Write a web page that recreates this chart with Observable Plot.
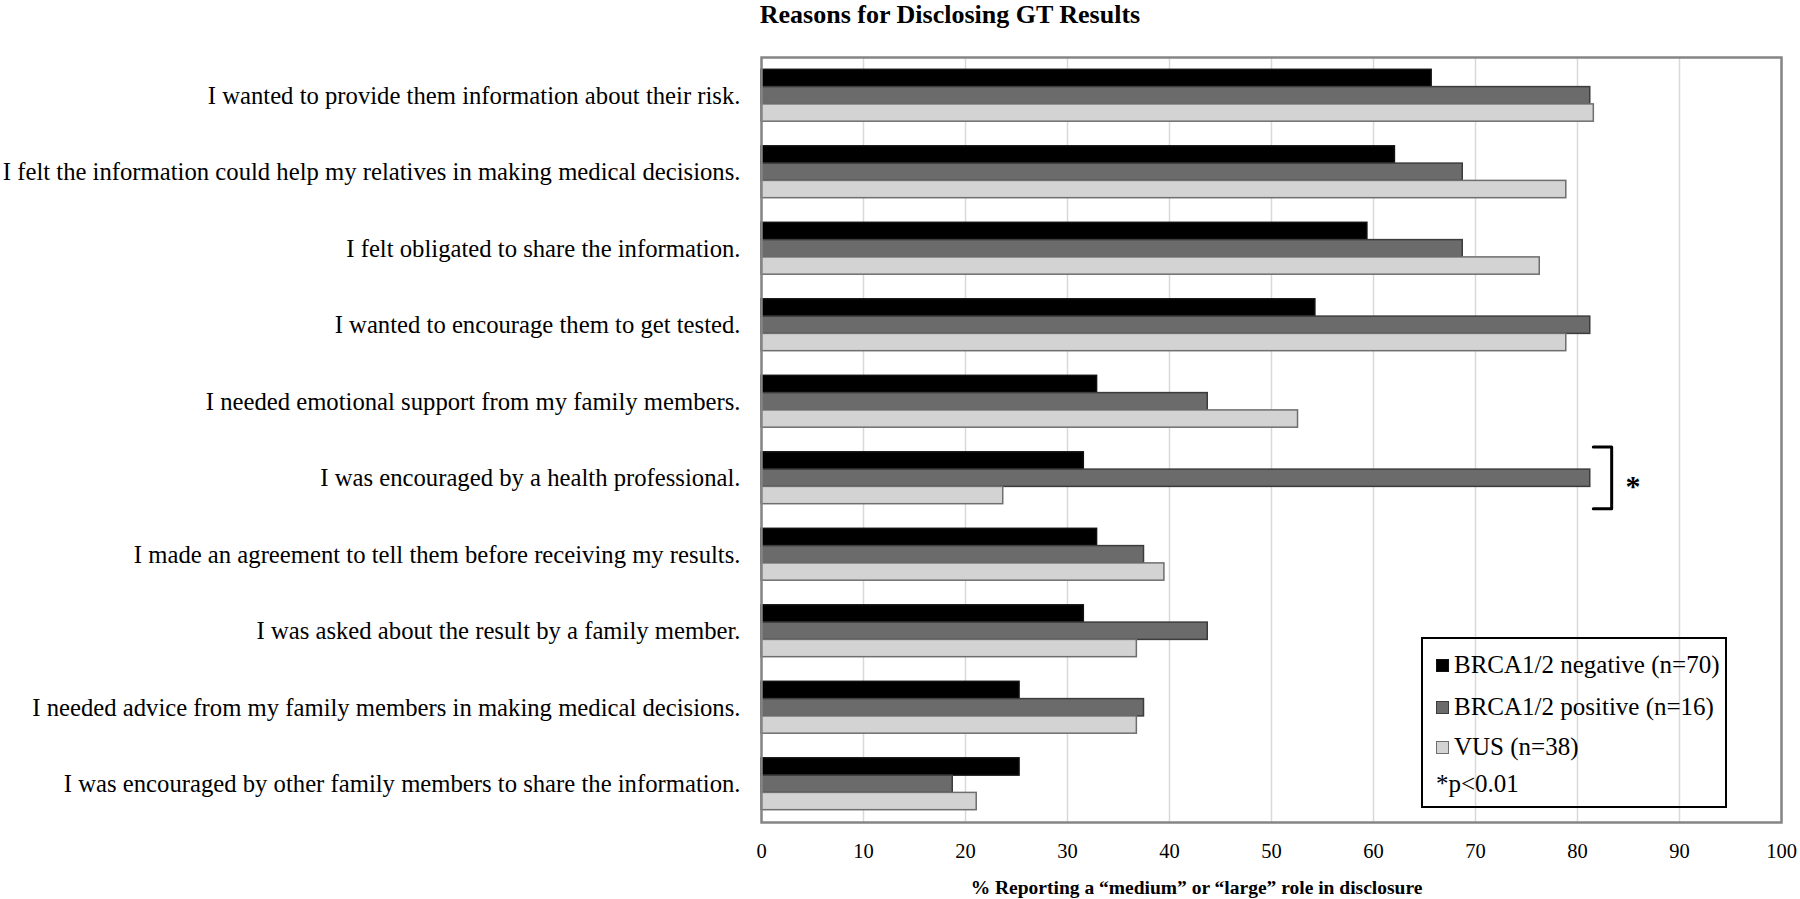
<!DOCTYPE html>
<html><head><meta charset="utf-8">
<script src="https://cdn.jsdelivr.net/npm/d3@7"></script>
<script src="https://cdn.jsdelivr.net/npm/@observablehq/plot@0.6"></script>
<style>
body{margin:0;background:#fff;font-family:"Liberation Serif","Times New Roman",serif;}
#wrap{position:relative;width:1800px;height:899px;overflow:hidden;background:#fff}
#title{height:30px;line-height:30px;font-weight:bold;font-size:26px;text-align:center;padding-left:100px;box-sizing:border-box;width:1800px;color:#000}
#legend{position:absolute;left:1421px;top:637px;width:306px;height:171px;border:2.5px solid #000;box-sizing:border-box;font-size:25px;color:#000}
#legend .item{position:absolute;left:13px;height:26px;line-height:26px;white-space:nowrap}
#legend .sw{display:inline-block;width:11px;height:11px;margin-right:5px;vertical-align:middle;position:relative;top:-2px}
svg{display:block}
</style>
</head><body>
<div id="wrap">
<div id="title">Reasons for Disclosing GT Results</div>
<div id="chart"></div>
<div id="legend"></div>
</div>
<script>
const categories = [
  "I wanted to provide them information about their risk.",
  "I felt the information could help my relatives in making medical decisions.",
  "I felt obligated to share the information.",
  "I wanted to encourage them to get tested.",
  "I needed emotional support from my family members.",
  "I was encouraged by a health professional.",
  "I made an agreement to tell them before receiving my results.",
  "I was asked about the result by a family member.",
  "I needed advice from my family members in making medical decisions.",
  "I was encouraged by other family members to share the information."
];
const series = ["BRCA1/2 negative (n=70)", "BRCA1/2 positive (n=16)", "VUS (n=38)"];
const negative = [65.7, 62.1, 59.4, 54.3, 32.9, 31.6, 32.9, 31.6, 25.3, 25.3];
const positive = [81.25, 68.75, 68.75, 81.25, 43.75, 81.25, 37.5, 43.75, 37.5, 18.75];
const vus      = [81.6, 78.9, 76.3, 78.9, 52.6, 23.7, 39.5, 36.8, 36.8, 21.1];
const xTicks = [0, 10, 20, 30, 40, 50, 60, 70, 80, 90, 100];
const significantRow = "I was encouraged by a health professional.";
const significantNote = "*p<0.01";
const xLabel = "% Reporting a \u201cmedium\u201d or \u201clarge\u201d role in disclosure";

const fills   = ["#000000", "#6b6b6b", "#d3d3d3"];
const strokes = ["#111111", "#3c3c3c", "#6e6e6e"];

const valuesBySeries = [negative, positive, vus];
const rows = [];
categories.forEach((c, i) => series.forEach((s, k) => rows.push({cat: c, i, k, series: s, value: valuesBySeries[k][i]})));

const th = 0.226;          // bar thickness in row units
const first = -0.339;      // top offset of first bar in a row
const barTop = d => d.i + first + d.k * th;
const barBot = d => d.i + first + (d.k + 1) * th;

const sig = categories.indexOf(significantRow);
const sigMax = d3.max(valuesBySeries, v => v[sig]);
const bracket = [
  {x: sigMax + 0.3, y: sig - 0.41},
  {x: sigMax + 2.1, y: sig - 0.41},
  {x: sigMax + 2.1, y: sig + 0.40},
  {x: sigMax + 0.3, y: sig + 0.40}
];

const chart = Plot.plot({
  width: 1800,
  height: 869,
  marginLeft: 761,
  marginRight: 19,
  marginTop: 27,
  marginBottom: 77,
  style: {fontFamily: "Liberation Serif, Times New Roman, serif", color: "#000", background: "#fff"},
  x: {domain: [0, 100]},
  y: {domain: [-0.5, categories.length - 0.5], reverse: true},
  marks: [
    Plot.gridX(xTicks, {stroke: "#d9d9d9", strokeOpacity: 1, strokeWidth: 1.5}),
    ...series.map((s, k) => Plot.rectX(rows.filter(d => d.k === k), {
      x1: 0, x2: "value", y1: barTop, y2: barBot,
      fill: fills[k], stroke: strokes[k], strokeWidth: 1.5
    })),
    Plot.frame({stroke: "#858585", strokeWidth: 2.5}),
    Plot.axisX(xTicks, {tickSize: 0, tickPadding: 21, fontSize: 20.5, label: null, tickFormat: d => String(d)}),
    Plot.axisY(d3.range(categories.length), {tickSize: 0, tickPadding: 21, fontSize: 24.7, label: null, tickFormat: i => categories[i]}),
    Plot.line(bracket, {x: "x", y: "y", stroke: "#000", strokeWidth: 3, strokeLinejoin: "round", curve: "linear"}),
    Plot.text([sig], {x: sigMax + 4.2, y: d => d, text: () => "*", fontSize: 30, fontWeight: "bold", dy: 8}),
    Plot.text([xLabel], {frameAnchor: "bottom", dx: -75, dy: 65, text: d => d, fontSize: 19.5, fontWeight: "bold", lineAnchor: "middle"})
  ]
});
document.getElementById("chart").appendChild(chart);

const legend = document.getElementById("legend");
const tops = [13, 55, 95, 132];
series.forEach((s, k) => {
  const it = document.createElement("div");
  it.className = "item";
  it.style.top = tops[k] + "px";
  const sw = document.createElement("span");
  sw.className = "sw";
  sw.style.background = fills[k];
  sw.style.border = "1px solid " + strokes[k];
  it.appendChild(sw);
  it.appendChild(document.createTextNode(s));
  legend.appendChild(it);
});
const note = document.createElement("div");
note.className = "item";
note.style.top = tops[3] + "px";
note.textContent = significantNote;
legend.appendChild(note);
</script>
</body></html>
